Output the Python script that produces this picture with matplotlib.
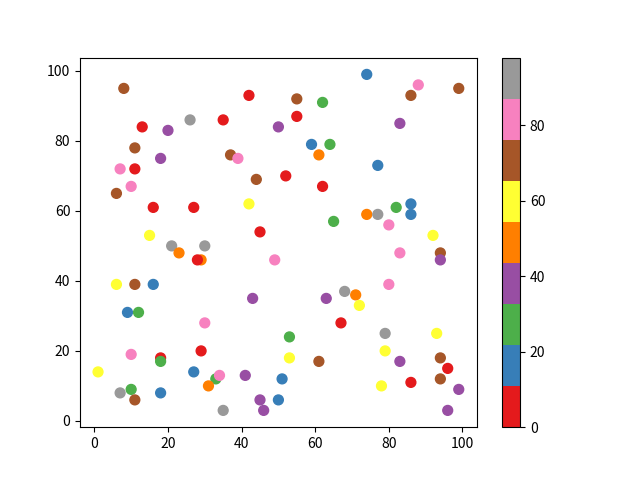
import matplotlib
matplotlib.use('Agg')
import matplotlib.pyplot as plt

plt.rcParams['font.family'] = ['Noto Sans CJK SC', 'DejaVu Sans']

# point positions and colour values
x = [8, 42, 26, 35, 13, 20, 50, 11, 18, 37, 39, 7, 11, 10, 6, 44, 16, 27, 42, 45,
     15, 21, 30,
     55, 55, 62, 74, 88, 86, 99, 83, 59, 64, 61, 52, 62, 77, 86, 82, 86, 74, 77,
     80, 65, 92,
     23, 29, 28, 49, 6, 11, 16, 43, 9, 12, 30, 29, 10, 18, 18, 1, 27, 33, 34, 31,
     41, 51, 10, 7, 18, 11, 45, 50, 35, 46,
     83, 94, 94, 80, 68, 71, 63, 72, 67, 53, 79, 93, 53, 61, 79, 83, 94, 96, 94,
     86, 78, 99, 96]
y = [95, 93, 86, 86, 84, 83, 84, 78, 75, 76, 75, 72, 72, 67, 65, 69, 61, 61, 62, 54,
     53, 50, 50,
     92, 87, 91, 99, 96, 93, 95, 85, 79, 79, 76, 70, 67, 73, 62, 61, 59, 59, 59,
     56, 57, 53,
     48, 46, 46, 46, 39, 39, 39, 35, 31, 31, 28, 20, 19, 18, 17, 14, 14, 12, 13, 10,
     13, 12, 9, 8, 8, 6, 6, 6, 3, 3,
     48, 48, 46, 39, 37, 36, 35, 33, 28, 24, 25, 25, 18, 17, 20, 17, 18, 15, 12,
     11, 10, 9, 3]
c = [71, 5, 93, 5, 5, 38, 38, 71, 38, 71, 82, 82, 5, 82, 71, 71, 5, 5, 60, 5,
     60, 93, 93,
     71, 5, 27, 16, 82, 71, 71, 38, 16, 27, 49, 5, 5, 16, 16, 27, 16, 49, 93,
     82, 27, 60,
     49, 49, 5, 82, 60, 71, 16, 38, 16, 27, 82, 5, 82, 5, 27, 60, 16, 27, 82, 49,
     38, 16, 27, 93, 16, 71, 38, 16, 93, 38,
     82, 71, 38, 82, 93, 49, 38, 60, 5, 27, 93, 60, 60, 71, 60, 38, 71, 5, 71,
     5, 60, 38, 38]

fig, ax = plt.subplots(figsize=(6.4, 4.8), dpi=100)
sc = ax.scatter(x, y, c=c, cmap='Set1', s=50, vmin=0, vmax=98)
fig.colorbar(sc, ax=ax)

plt.savefig('out.png', dpi=100)
plt.close(fig)
